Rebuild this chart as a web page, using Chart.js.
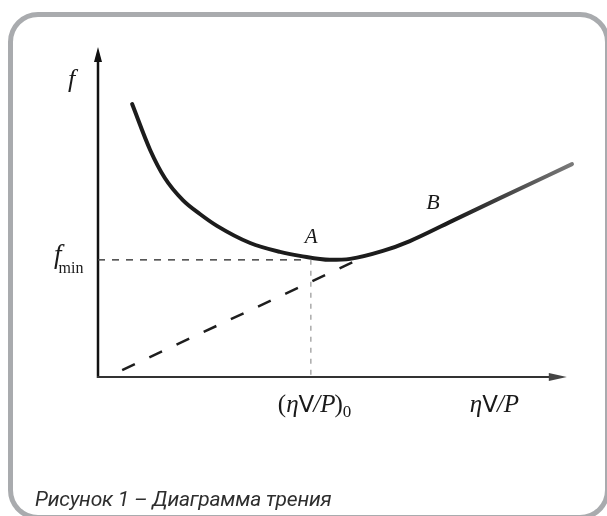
<!DOCTYPE html>
<html>
<head>
<meta charset="utf-8">
<script src="https://cdn.jsdelivr.net/npm/chart.js@4.4.1/dist/chart.umd.min.js"></script>
<style>
  html, body { margin: 0; padding: 0; background: #fff; }
  body { width: 607px; height: 516px; position: relative; overflow: hidden; }
  .frame {
    position: absolute; left: 8px; top: 12px; width: 592px; height: 498px;
    border: 5px solid #a9abae; border-radius: 30px; box-sizing: content-box;
  }
  #chart { position: absolute; left: 0; top: 0; }
  .caption {
    position: absolute; left: 35px; top: 485px;
    font: italic 21px Roboto, "Noto Sans", sans-serif; color: #2e2e2e;
    line-height: 28px; white-space: nowrap; letter-spacing: -0.2px;
  }
</style>
</head>
<body>
<div class="frame"></div>
<canvas id="chart" width="607" height="516"></canvas>
<div class="caption">Рисунок 1 – Диаграмма трения</div>
<script>
// friction curve f(ηV/P) (axes 0..100)
const curveX = [7.2, 11.0, 14.1, 17.9, 21.5, 25.1, 32.1, 38.4, 42.6, 48.9, 53.2, 60.1, 65.8, 74.3, 84.8, 100];
const curveY = [82.7, 68.8, 60.3, 53.6, 49.4, 45.8, 40.6, 37.9, 36.7, 35.5, 35.8, 38.2, 41.2, 47.0, 54.2, 64.5];
const fMin = 35.5;
const xOpt = 44.9;
const tangentX = [5.1, 55.7];
const tangentY = [2.1, 36.1];
const axisEndX = 98.9;
const axisEndY = 100;
const pointLabels = ['A', 'B'];
const pointLabelX = [44.9, 70.5];

const pts = (xs, ys) => xs.map((x, i) => ({ x: x, y: ys[i] }))

const serif = '"Liberation Serif", "DejaVu Serif", serif'

// draws a run of text pieces starting at x
function runText(c, x, y, parts) {
    parts.forEach(p => {
        c.font = p.f
        c.fillText(p.t, x, y + (p.dy || 0))
        x += c.measureText(p.t).width + (p.dx || 0)
    })
}

const axesPlugin = {
    id: 'axes',
    beforeDatasetsDraw(chart) {
        const c = chart.ctx
        const xs = chart.scales.x, ys = chart.scales.y
        const x0 = xs.getPixelForValue(0), y0 = ys.getPixelForValue(0)
        const xe = xs.getPixelForValue(axisEndX), ye = ys.getPixelForValue(axisEndY)
        c.save()
        c.strokeStyle = '#111'
        c.fillStyle = '#111'
        c.lineWidth = 2.5
        c.beginPath(); c.moveTo(x0, y0 + 1); c.lineTo(x0, ye + 10); c.stroke()
        c.beginPath(); c.moveTo(x0, ye); c.lineTo(x0 - 4, ye + 15); c.lineTo(x0 + 4, ye + 15); c.closePath(); c.fill()
        c.strokeStyle = '#333'
        c.lineWidth = 2
        c.beginPath(); c.moveTo(x0 - 1, y0); c.lineTo(xe - 12, y0); c.stroke()
        c.fillStyle = '#444'
        c.beginPath(); c.moveTo(xe, y0); c.lineTo(xe - 18, y0 - 4); c.lineTo(xe - 18, y0 + 4); c.closePath(); c.fill()
        c.restore()
    },
    afterDatasetsDraw(chart) {
        const c = chart.ctx
        const xs = chart.scales.x, ys = chart.scales.y
        const x0 = xs.getPixelForValue(0)
        const y0 = ys.getPixelForValue(0)
        c.save()
        c.fillStyle = '#1a1a1a'
        c.textBaseline = 'alphabetic'
        c.textAlign = 'left'
        // y labels
        runText(c, x0 - 30, ys.getPixelForValue(88), [{ t: 'f', f: 'italic 26px ' + serif }])
        const fy = ys.getPixelForValue(fMin)
        runText(c, x0 - 44, fy + 3, [
            { t: 'f', f: 'italic 27px ' + serif, dx: -3 },
            { t: 'min', f: '16px ' + serif, dy: 10 }
        ])
        // point labels
        c.font = 'italic 21px ' + serif
        const ax = xs.getPixelForValue(pointLabelX[0])
        c.fillText(pointLabels[0], ax - 6, ys.getPixelForValue(fMin) - 17)
        c.font = 'italic 22px ' + serif
        const bx = xs.getPixelForValue(pointLabelX[1])
        c.fillText(pointLabels[1], bx - 6, ys.getPixelForValue(53) + 7)
        // x labels
        const base = y0 + 35
        runText(c, xs.getPixelForValue(xOpt) - 33, base, [
            { t: '(', f: '25px ' + serif },
            { t: 'η', f: 'italic 25px ' + serif },
            { t: 'V', f: '23px "DejaVu Sans", sans-serif', dx: -1 },
            { t: '/', f: 'italic 25px ' + serif },
            { t: 'P', f: 'italic 25px ' + serif, dx: -1 },
            { t: ')', f: '25px ' + serif },
            { t: '0', f: '17px ' + serif, dy: 5 }
        ])
        runText(c, xs.getPixelForValue(axisEndX) - 97, base, [
            { t: 'η', f: 'italic 25px ' + serif },
            { t: 'V', f: '23px "DejaVu Sans", sans-serif', dx: -1 },
            { t: '/', f: 'italic 25px ' + serif },
            { t: 'P', f: 'italic 25px ' + serif }
        ])
        c.restore()
    }
}

function curveColor(context) {
    const chart = context.chart
    const area = chart.chartArea
    if (!area) return '#1c1c1c'
    const xs = chart.scales.x
    const g = chart.ctx.createLinearGradient(xs.getPixelForValue(75), 0, xs.getPixelForValue(100), 0)
    g.addColorStop(0, '#1c1c1c')
    g.addColorStop(1, '#7a7a7a')
    return g
}

new Chart(document.getElementById('chart'), {
    type: 'line',
    data: {
        datasets: [
            {
                data: pts([0, xOpt - 2], [fMin, fMin]),
                borderColor: '#444', borderWidth: 1.5, borderDash: [7, 7]
            },
            {
                data: pts([xOpt, xOpt], [fMin, 0]),
                borderColor: '#aaa', borderWidth: 1.5, borderDash: [5, 6]
            },
            {
                data: pts(tangentX, tangentY),
                borderColor: '#1e1e1e', borderWidth: 2.5, borderDash: [14, 16]
            },
            {
                data: pts(curveX, curveY),
                borderColor: curveColor, borderWidth: 4,
                cubicInterpolationMode: 'monotone', borderCapStyle: 'round'
            }
        ]
    },
    options: {
        responsive: false,
        animation: false,
        clip: false,
        layout: { padding: { left: 98, right: 35, top: 47, bottom: 139 } },
        elements: { point: { radius: 0 } },
        plugins: { legend: { display: false }, tooltip: { enabled: false } },
        scales: {
            x: { type: 'linear', min: 0, max: 100, display: false },
            y: { type: 'linear', min: 0, max: 100, display: false }
        }
    },
    plugins: [axesPlugin]
});
</script>
</body>
</html>
